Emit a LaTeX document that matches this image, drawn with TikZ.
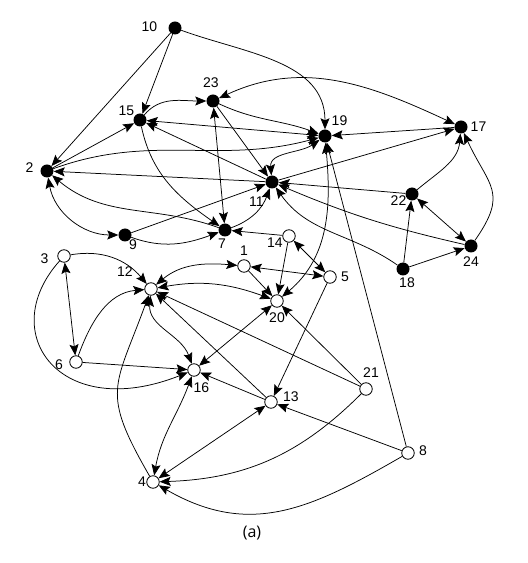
\documentclass[tikz,border=0pt]{standalone}
\usepackage{fontspec}
\setmainfont{Liberation Sans}
\newfontfamily\capfont{Open Sans}
\usetikzlibrary{arrows.meta}

\begin{document}
\begin{tikzpicture}[x=1pt, y=1pt, font=\fontsize{14}{16}\selectfont,
	full/.style={circle, fill=black, inner sep=0pt, minimum size=13pt},
	hollow/.style={circle, draw=black, line width=0.8pt, fill=white, inner sep=0pt, minimum size=12.5pt},
	num/.style={inner sep=0pt},
	arc/.style={line width=0.75pt, -{Stealth[length=11pt, width=9pt, inset=2pt]}},
	both/.style={line width=0.75pt, {Stealth[length=11pt, width=9pt, inset=2pt]}-{Stealth[length=11pt, width=9pt, inset=2pt]}}]
	\useasboundingbox (0,0) rectangle (528,563);
	% black vertices
	\node[full] (n10) at (175,535) {};
	\node[full] (n23) at (213,462) {};
	\node[full] (n15) at (140,443) {};
	\node[full] (n19) at (325,427) {};
	\node[full] (n17) at (461,436) {};
	\node[full] (n2) at (47,392) {};
	\node[full] (n11) at (272,381) {};
	\node[full] (n22) at (412,369) {};
	\node[full] (n24) at (471,317) {};
	\node[full] (n18) at (403,294) {};
	\node[full] (n9) at (125,328) {};
	\node[full] (n7) at (225,333) {};
	% white vertices
	\node[hollow] (n14) at (289,327) {};
	\node[hollow] (n1) at (244,297) {};
	\node[hollow] (n5) at (330,286) {};
	\node[hollow] (n3) at (64,307) {};
	\node[hollow] (n12) at (151,274) {};
	\node[hollow] (n20) at (277,262) {};
	\node[hollow] (n6) at (76,201) {};
	\node[hollow] (n16) at (194,193) {};
	\node[hollow] (n21) at (366,174) {};
	\node[hollow] (n13) at (271,161) {};
	\node[hollow] (n8) at (408,110) {};
	\node[hollow] (n4) at (153,81) {};
	% numbers
	\node[num] (t10) at (149.5,536) {10};
	\node[num] (t23) at (211,480.5) {23};
	\node[num] (t15) at (126.5,452.5) {15};
	\node[num] (t2) at (29.5,395) {2};
	\node[num] (t19) at (339.5,442) {19};
	\node[num] (t17) at (478.5,436.5) {17};
	\node[num] (t22) at (398.5,362) {22};
	\node[num] (t11) at (256.5,361) {11};
	\node[num] (t7) at (222,319) {7};
	\node[num] (t14) at (275,320) {14};
	\node[num] (t1) at (244,312) {1};
	\node[num] (t9) at (133,318) {9};
	\node[num] (t3) at (44.5,304) {3};
	\node[num] (t12) at (125,291) {12};
	\node[num] (t6) at (59,198) {6};
	\node[num] (t16) at (201.5,175) {16};
	\node[num] (t20) at (277,245) {20};
	\node[num] (t5) at (345,286) {5};
	\node[num] (t18) at (407,280) {18};
	\node[num] (t24) at (471,301) {24};
	\node[num] (t21) at (371,190) {21};
	\node[num] (t13) at (291,166) {13};
	\node[num] (t8) at (423,112) {8};
	\node[num] (t4) at (142,81) {4};
	\node[font=\capfont\fontsize{16}{18}\selectfont] (caption) at (252,30) {(a)};
	% straight arcs
	\draw[arc] (n10) -- (n2);
	\draw[arc] (n10) -- (n15);
	\draw[arc] (n2) -- (n15);
	\draw[arc] (n23) -- (n11);
	\draw[both] (n23) -- (n7);
	\draw[both] (n15) -- (n19);
	\draw[arc] (n11) -- (n15);
	\draw[arc] (n11) -- (n2);
	\draw[arc] (n9) -- (n11);
	\draw[arc] (n11) -- (n17);
	\draw[arc] (n17) -- (n19);
	\draw[arc] (n22) -- (n11);
	\draw[both] (n22) -- (n24);
	\draw[arc] (n18) -- (n22);
	\draw[arc] (n18) -- (n24);
	\draw[arc] (n8) -- (n19);
	\draw[arc] (n14) -- (n7);
	\draw[arc] (n14) -- (n20);
	\draw[both] (n14) -- (n5);
	\draw[both] (n1) -- (n5);
	\draw[arc] (n1) -- (n20);
	\draw[arc] (n5) -- (n13);
	\draw[both] (n3) -- (n6);
	\draw[arc] (n6) -- (n16);
	\draw[both] (n20) -- (n16);
	\draw[arc] (n13) -- (n12);
	\draw[arc] (n13) -- (n16);
	\draw[arc] (n21) -- (n12);
	\draw[arc] (n21) -- (n20);
	\draw[arc] (n8) -- (n13);
	\draw[both] (n4) -- (n13);
	% curved arcs
	\draw[arc] (n10) to[out=-20, in=90] (n19);
	\draw[arc] (n15) to[out=50, in=180] (n23);
	\draw[both] (n23) to[out=25, in=155] (n17);
	\draw[arc] (n23) to[out=-25, in=160] (n19);
	\draw[arc] (n2) to[out=20, in=195] (n19);
	\draw[arc] (n15) to[out=-78, in=145] (n7);
	\draw[arc] (n7) to[out=160, in=-40] (n2);
	\draw[both] (n2) to[out=-80, in=180] (n9);
	\draw[arc] (n9) to[out=-20, in=200] (n7);
	\draw[arc] (n7) to[out=20, in=-110] (n11);
	\draw[both] (n19) to[out=215, in=95] (n11);
	\draw[arc] (n22) to[out=40, in=-95] (n17);
	\draw[arc] (n24) to[out=55, in=-65, looseness=1.4] (n17);
	\draw[arc] (n24) to[bend left=5] (n11);
	\draw[arc] (n18) to[out=145, in=-55] (n11);
	\draw[both] (n19) to[out=-85, in=40] (n20);
	\draw[both] (n12) to[out=40, in=175] (n1);
	\draw[both] (n12) to[out=10, in=160] (n20);
	\draw[arc] (n3) to[out=10, in=130] (n12);
	\draw[arc] (n3) .. controls (-5,230) and (60,140) .. (n16);
	\draw[arc] (n6) to[out=70, in=185] (n12);
	\draw[both] (n12) to[out=-95, in=110] (n16);
	\draw[arc] (n21) to[out=225, in=2] (n4);
	\draw[arc] (n8) to[out=210, in=-30, looseness=1.1] (n4);
	\draw[arc] (n4) to[out=120, in=-110, looseness=1.4] (n12);
	\draw[both] (n4) to[out=80, in=-110] (n16);
\end{tikzpicture}
\end{document}
